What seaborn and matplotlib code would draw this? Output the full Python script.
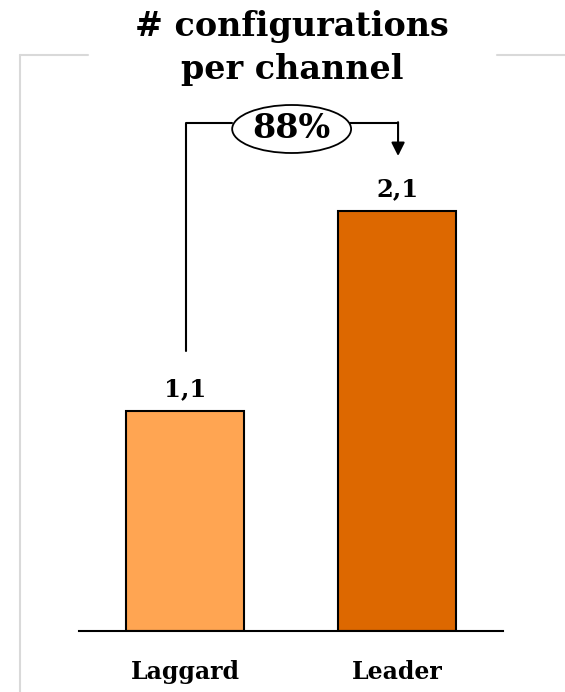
import matplotlib
matplotlib.use("Agg")
import matplotlib.pyplot as plt
from matplotlib.patches import Ellipse
from matplotlib.lines import Line2D
import seaborn as sns

categories = ["Laggard", "Leader"]
values = [1.1, 2.1]
value_labels = ["1,1", "2,1"]
colors = ["#FFA552", "#DD6800"]
title = "# configurations\nper channel"
growth_label = "88%"

sns.set_theme(style="white")
plt.rcParams["font.family"] = ["DejaVu Serif"]
plt.rcParams["text.color"] = "black"
plt.rcParams["xtick.color"] = "black"

W, H = 565, 692
fig = plt.figure(figsize=(W / 100, H / 100), dpi=100)

# plotting area: baseline at y=631 px, x from 79 to 503 px
ax = fig.add_axes([79 / W, (H - 631) / H, 424 / W, 600 / H])
sns.barplot(x=categories, y=values, hue=categories, palette=colors,
            width=0.557, edgecolor="black", linewidth=1.5,
            legend=False, ax=ax, saturation=1)
ax.set_xlim(-0.5, 1.5)
ax.set_ylim(0, 3.0)
ax.set_xlabel("")
ax.set_ylabel("")
ax.set_yticks([])
for s in ["top", "left", "right"]:
    ax.spines[s].set_visible(False)
ax.spines["bottom"].set_color("black")
ax.spines["bottom"].set_linewidth(1.5)
ax.tick_params(axis="x", length=0, pad=21, labelcolor="black")
for lbl in ax.get_xticklabels():
    lbl.set_fontweight("bold")
    lbl.set_fontsize(17)
ax.patch.set_alpha(0)

# value labels above bars
for i, (v, t) in enumerate(zip(values, value_labels)):
    ax.text(i, v + 0.05, t, ha="center", va="bottom",
            fontsize=17.5, fontweight="bold", color="black")

# growth bracket from Laggard to Leader
y_line = 2.54
ax.add_line(Line2D([0.005, 0.005, 0.22], [values[0] + 0.3, y_line, y_line],
                   color="black", lw=1.5, clip_on=False))
ax.add_line(Line2D([0.78, 1.005], [y_line, y_line],
                   color="black", lw=1.5, clip_on=False))
ax.annotate("", xy=(1.005, 2.375), xytext=(1.005, y_line + 0.004),
            arrowprops=dict(arrowstyle="-|>", color="black", lw=1.5,
                            mutation_scale=20, shrinkA=0, shrinkB=0),
            annotation_clip=False)
ax.add_patch(Ellipse((0.503, 2.51), 0.561, 0.24, facecolor="white",
                     edgecolor="black", lw=1.3, clip_on=False, zorder=5))
ax.text(0.503, 2.515, growth_label, ha="center", va="center",
        fontsize=24, fontweight="bold", color="black", zorder=6)

# light frame behind the chart
frame_kw = dict(color="#d9d9d9", lw=1.5, transform=fig.transFigure)
fig.add_artist(Line2D([20 / W, 20 / W], [0, (H - 55) / H], **frame_kw))
fig.add_artist(Line2D([20 / W, 88 / W], [(H - 55) / H, (H - 55) / H], **frame_kw))
fig.add_artist(Line2D([497 / W, 1.0], [(H - 55) / H, (H - 55) / H], **frame_kw))

fig.text(292 / W, 1 - 48 / H, title, ha="center", va="center",
         fontsize=24, fontweight="bold", color="black", linespacing=1.35)

fig.savefig("out.png", dpi=100)
